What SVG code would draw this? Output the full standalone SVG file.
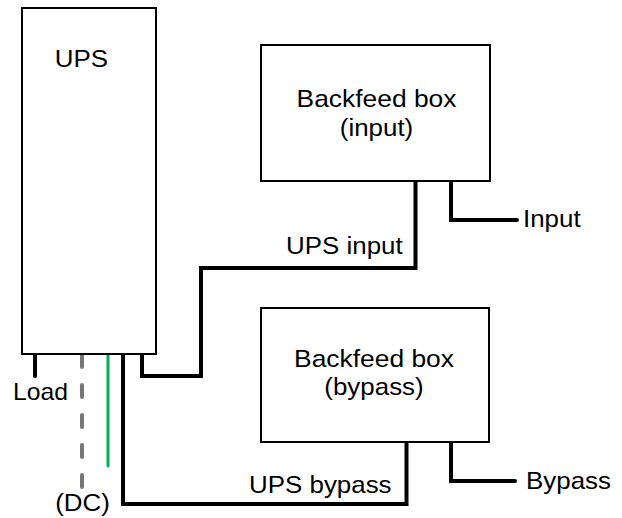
<svg xmlns="http://www.w3.org/2000/svg" width="622" height="518" viewBox="0 0 622 518">
<style>
.box{fill:#fff;stroke:#000;stroke-width:2}
.lbl{font-family:"Liberation Sans",Arial,sans-serif;font-size:24px;fill:#000}
.w{fill:none;stroke:#000;stroke-width:4;stroke-linecap:round;stroke-linejoin:miter}
.dc{fill:none;stroke:#767676;stroke-width:4;stroke-linecap:round;stroke-dasharray:12 18}
.gr{fill:none;stroke:#00b050;stroke-width:3;stroke-linecap:round}
</style>
<rect width="622" height="518" fill="#fff"/>
<g id="connectors">
<path class="w" d="M35,354 V376"/>
<path class="dc" d="M82,355 V487"/>
<path class="gr" d="M108,354 V466"/>
<path class="w" d="M142,354 V376 H201 V268 H415.5 V181"/>
<path class="w" d="M123,354 V504 H406.5 V442"/>
<path class="w" d="M451,181 V220 H517"/>
<path class="w" d="M451,442 V481 H515"/>
<text class="lbl" transform="translate(286 254) scale(1.08 1)">UPS input</text>
<text class="lbl" transform="translate(249 493) scale(1.08 1)">UPS bypass</text>
<text class="lbl" transform="translate(523 226.5) scale(1.08 1)">Input</text>
<text class="lbl" transform="translate(526 489) scale(1.08 1)">Bypass</text>
<text class="lbl" transform="translate(13 400) scale(1.03 1)">Load</text>
<text class="lbl" text-anchor="middle" transform="translate(82.5 511) scale(1.08 1)">(DC)</text>
</g>
<g id="ups">
<rect class="box" x="22" y="8" width="134" height="346"/>
<text class="lbl" text-anchor="middle" transform="translate(81.5 66.5) scale(1.08 1)">UPS</text>
</g>
<g id="backfeed-input">
<rect class="box" x="261" y="45" width="229" height="136"/>
<text class="lbl" text-anchor="middle" transform="translate(376.5 106.5) scale(1.1 1)">Backfeed box</text>
<text class="lbl" text-anchor="middle" transform="translate(376.5 135.5) scale(1.08 1)">(input)</text>
</g>
<g id="backfeed-bypass">
<rect class="box" x="261" y="308" width="228" height="134"/>
<text class="lbl" text-anchor="middle" transform="translate(374 366.5) scale(1.1 1)">Backfeed box</text>
<text class="lbl" text-anchor="middle" transform="translate(374 395) scale(1.08 1)">(bypass)</text>
</g>
</svg>
